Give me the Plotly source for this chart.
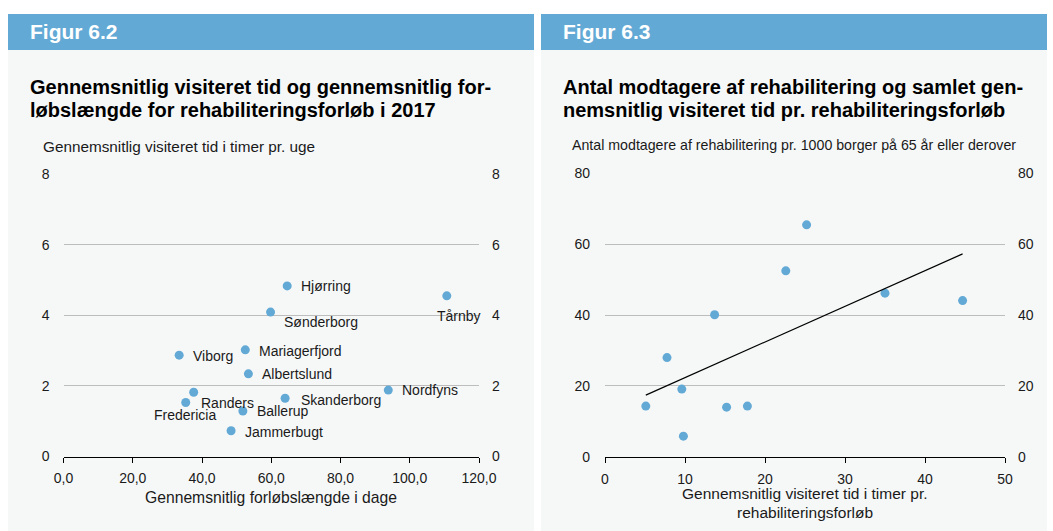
import plotly.graph_objects as go

W, H = 1053, 531

# ---------------- data: Figur 6.2 ----------------
kommuner = ["Hjørring", "Tårnby", "Sønderborg", "Viborg", "Mariagerfjord", "Albertslund",
            "Randers", "Fredericia", "Skanderborg", "Nordfyns", "Ballerup", "Jammerbugt"]
forloeb_dage = [64.6, 110.7, 59.8, 33.4, 52.5, 53.4, 37.6, 35.3, 64.0, 93.8, 51.8, 48.4]
visiteret_timer_uge = [4.83, 4.55, 4.09, 2.87, 3.02, 2.34, 1.82, 1.53, 1.65, 1.88, 1.29, 0.73]
left_xticks = [0, 20, 40, 60, 80, 100, 120]
left_xticklabels = ["0,0", "20,0", "40,0", "60,0", "80,0", "100,0", "120,0"]
left_yticks = [0, 2, 4, 6, 8]

# ---------------- data: Figur 6.3 ----------------
visiteret_tid_forloeb = [5.1, 7.75, 9.6, 9.8, 13.7, 15.2, 17.8, 22.6, 25.2, 35.0, 44.7]
modtagere_pr_1000 = [14.3, 28.0, 19.1, 5.8, 40.1, 14.0, 14.3, 52.5, 65.5, 46.2, 44.1]
trend_x = [5.1, 44.7]
trend_y = [17.4, 57.3]
right_xticks = [0, 10, 20, 30, 40, 50]
right_yticks = [0, 20, 40, 60, 80]

# ---------------- styling ----------------
FONT = "Liberation Sans, Arial, Helvetica, sans-serif"
BLUE = "#63a9d5"
PANEL = "#f6f8f8"
GRID = "#bdbdbd"
TXT = "#1a1a1a"

label_style = {
    "Hjørring": (12, 0, "left"),
    "Tårnby": (12, -20, "center"),
    "Sønderborg": (11, -10, "left"),
    "Viborg": (12, -1, "left"),
    "Mariagerfjord": (12, -1, "left"),
    "Albertslund": (12, 0, "left"),
    "Randers": (5, -11, "left"),
    "Fredericia": (-1, -13, "center"),
    "Skanderborg": (14, -2, "left"),
    "Nordfyns": (12, 0, "left"),
    "Ballerup": (12, 0, "left"),
    "Jammerbugt": (12, -1, "left"),
}


def px(x):
    return x / W


def py(y):
    return 1 - y / H


fig = go.Figure()

fig.add_trace(go.Scatter(
    x=forloeb_dage, y=visiteret_timer_uge, mode="markers",
    marker=dict(color=BLUE, size=9), xaxis="x", yaxis="y",
    hoverinfo="text", text=kommuner, showlegend=False,
))
fig.add_trace(go.Scatter(
    x=visiteret_tid_forloeb, y=modtagere_pr_1000, mode="markers",
    marker=dict(color=BLUE, size=9), xaxis="x2", yaxis="y2", showlegend=False,
))
fig.add_trace(go.Scatter(
    x=trend_x, y=trend_y, mode="lines", line=dict(color="black", width=1.2),
    xaxis="x2", yaxis="y2", showlegend=False, hoverinfo="skip",
))
fig.add_trace(go.Scatter(x=[None], y=[None], xaxis="x", yaxis="y3", showlegend=False))
fig.add_trace(go.Scatter(x=[None], y=[None], xaxis="x2", yaxis="y4", showlegend=False))

L_DOM_X = [px(63.5), px(479)]
L_DOM_Y = [py(456.5), py(174)]
R_DOM_X = [px(605), px(1005)]
R_DOM_Y = [py(456.7), py(173.5)]

tickfont = dict(family=FONT, size=14, color=TXT)

common_x = dict(showgrid=False, zeroline=False, showline=True, linecolor="black", linewidth=1.2,
                ticks="outside", ticklen=5, tickcolor="black", tickwidth=1, tickfont=tickfont,
                ticklabelstandoff=4, fixedrange=True)
common_y = dict(showgrid=True, gridcolor=GRID, gridwidth=1, zeroline=False, showline=False,
                ticks="", tickfont=tickfont, fixedrange=True)
right_y = dict(showgrid=False, zeroline=False, showline=False, ticks="", tickfont=tickfont,
               fixedrange=True, side="right")

fig.update_layout(
    width=W, height=H,
    margin=dict(l=0, r=0, t=0, b=0, autoexpand=False),
    paper_bgcolor="white", plot_bgcolor="rgba(0,0,0,0)",
    font=dict(family=FONT, color=TXT),
    xaxis=dict(domain=L_DOM_X, range=[0, 120], tickvals=left_xticks, ticktext=left_xticklabels,
               anchor="y", **common_x),
    yaxis=dict(domain=L_DOM_Y, range=[0, 8], tickvals=left_yticks, anchor="x",
               ticklabelstandoff=13, **common_y),
    yaxis3=dict(domain=L_DOM_Y, range=[0, 8], tickvals=left_yticks, overlaying="y",
                anchor="x", ticklabelstandoff=12, **right_y),
    xaxis2=dict(domain=R_DOM_X, range=[0, 50], tickvals=right_xticks, anchor="y2", **common_x),
    yaxis2=dict(domain=R_DOM_Y, range=[0, 80], tickvals=right_yticks, anchor="x2",
                ticklabelstandoff=14, **common_y),
    yaxis4=dict(domain=R_DOM_Y, range=[0, 80], tickvals=right_yticks, overlaying="y2",
                anchor="x2", ticklabelstandoff=12, **right_y),
)

shapes = []
for x0, x1 in [(8, 534), (541, 1047)]:
    shapes.append(dict(type="rect", xref="paper", yref="paper", x0=px(x0), x1=px(x1),
                       y0=0, y1=py(50), fillcolor=PANEL, line=dict(width=0), layer="below"))
    shapes.append(dict(type="rect", xref="paper", yref="paper", x0=px(x0), x1=px(x1),
                       y0=py(50), y1=py(14), fillcolor=BLUE, line=dict(width=0), layer="below"))
fig.update_layout(shapes=shapes)


def text_ann(x, y, text, size, bold=False, color=TXT, anchor="left"):
    return dict(xref="paper", yref="paper", x=px(x), y=py(y), xanchor=anchor, yanchor="middle",
                text=f"<b>{text}</b>" if bold else text, showarrow=False,
                font=dict(family=FONT, size=size, color=color))


ann = []
ann.append(text_ann(28, 32, "Figur 6.2", 21, True, "white"))
ann.append(text_ann(561, 32, "Figur 6.3", 21, True, "white"))
ann.append(text_ann(28, 86.5, "Gennemsnitlig visiteret tid og gennemsnitlig for-", 20, True, "black"))
ann.append(text_ann(28, 110, "løbslængde for rehabiliteringsforløb i 2017", 20, True, "black"))
ann.append(text_ann(561, 86.5, "Antal modtagere af rehabilitering og samlet gen-", 20, True, "black"))
ann.append(text_ann(561, 110, "nemsnitlig visiteret tid pr. rehabiliteringsforløb", 20, True, "black"))
ann.append(text_ann(41, 146, "Gennemsnitlig visiteret tid i timer pr. uge", 15.3))
ann.append(text_ann(570, 145, "Antal modtagere af rehabilitering pr. 1000 borger på 65 år eller derover", 14.2))
ann.append(text_ann(271, 497.8, "Gennemsnitlig forløbslængde i dage", 15.7, anchor="center"))
ann.append(text_ann(805, 493, "Gennemsnitlig visiteret tid i timer pr.", 15.5, anchor="center"))
ann.append(text_ann(805, 512, "rehabiliteringsforløb", 15.5, anchor="center"))

for name, xv, yv in zip(kommuner, forloeb_dage, visiteret_timer_uge):
    dx, dy, anc = label_style[name]
    ann.append(dict(xref="x", yref="y", x=xv, y=yv, xanchor=anc, yanchor="middle",
                    xshift=dx, yshift=dy, text=name, showarrow=False,
                    font=dict(family=FONT, size=14, color=TXT)))
fig.update_layout(annotations=ann)

fig.write_html(
    "out.html",
    config={"displayModeBar": False},
    post_script="document.body.style.margin='0';"
                "document.body.style.overflow='hidden';document.documentElement.style.overflow='hidden';",
)
